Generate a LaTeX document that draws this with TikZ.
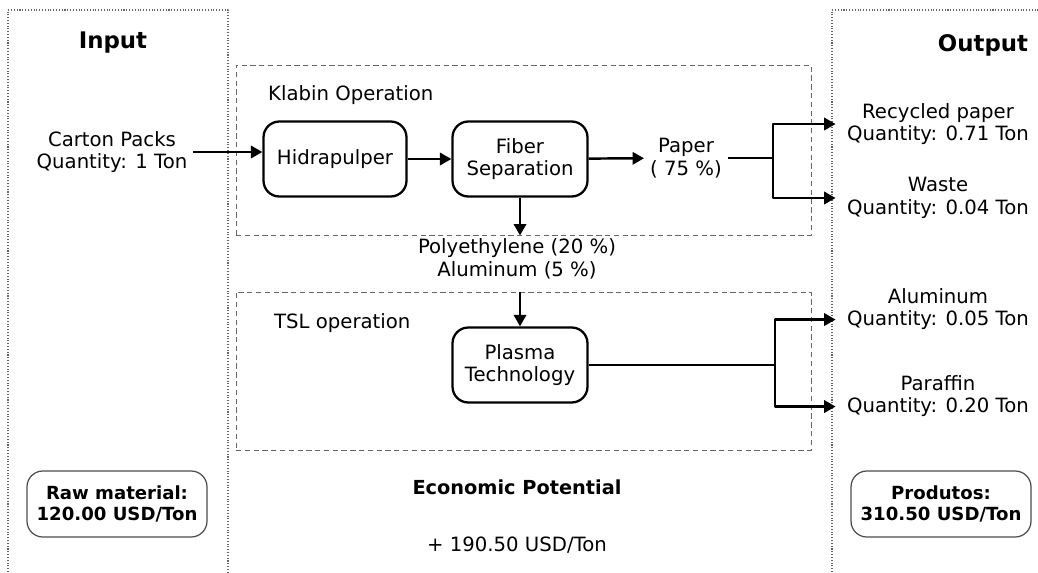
\documentclass[tikz,border=0pt]{standalone}
\usepackage{fontspec}
\setmainfont{DejaVu Sans}
\usetikzlibrary{arrows.meta}
\begin{document}
\begin{tikzpicture}[>={Triangle[length=6.5pt,width=7pt]}, x=0.02cm, y=-0.02cm, line join=round,
  font=\fontsize{11.2}{13}\selectfont,
  proc/.style={draw, line width=1.3pt, rounded corners=9pt, minimum width=2.7cm, minimum height=1.5cm, align=center},
  zone/.style={draw=black!60, densely dashed, line width=0.5pt, minimum width=11.5cm},
  panel/.style={draw=black!60, densely dotted, line width=0.6pt},
  pricebox/.style={draw=black!70, line width=0.7pt, rounded corners=9pt, minimum width=3.6cm, minimum height=1.32cm, align=center, font=\fontsize{10.3}{12}\selectfont\bfseries},
  flow/.style={->, line width=1.4pt},
  txt/.style={align=center}]
\useasboundingbox (0,0) rectangle (1038,572);
% side panels
\draw[panel] (8,572) -- (8,10) -- (228,10) -- (228,572);
\draw[panel] (832,572) -- (832,10) -- (1038,10);
\node (input) at (113,43) {\fontsize{13}{15}\selectfont\bfseries Input};
\node (output) at (983,45) {\fontsize{13}{15}\selectfont\bfseries Output};
% operations
\node[zone, minimum height=3.4cm] (klabin) at (523.5,150) {};
\node[zone, minimum height=3.16cm] (tsl) at (523.5,371) {};
\node[right] (klabinlbl) at (262,95) {Klabin Operation};
\node[right] (tsllbl) at (268,323) {TSL operation};
% process boxes
\node[proc, minimum width=2.86cm] (hidra) at (335,159) {Hidrapulper};
\node[proc] (fiber) at (520,159) {Fiber\\Separation};
\node[proc] (plasma) at (520,365) {Plasma\\Technology};
\node[txt] (paper) at (686,158) {Paper\\( 75 \%)};
\node[txt] (carton) at (112,152) {Carton Packs\\Quantity: 1 Ton};
\node[txt] (poly) at (517,259) {Polyethylene (20 \%)\\Aluminum (5 \%)};
% outputs
\node[txt] (recyc) at (938,124) {Recycled paper\\Quantity: 0.71 Ton};
\node[txt] (waste) at (938,198) {Waste\\Quantity: 0.04 Ton};
\node[txt] (alum) at (938,309) {Aluminum\\Quantity: 0.05 Ton};
\node[txt] (paraf) at (938,396) {Paraffin\\Quantity: 0.20 Ton};
% connectors
\draw[flow] (carton.east) -- (hidra.west |- carton.east);
\draw[flow] (hidra) -- (fiber);
\draw[flow] (fiber) -- (paper);
\draw[flow] (fiber) -- (fiber |- klabin.south);
\draw[flow] (plasma |- tsl.north) -- (plasma);
\coordinate (psplit) at (773,158);
\coordinate (tsplit) at (775,365);
\draw[line width=1.4pt] (paper.east) -- (psplit);
\draw[flow, shorten >=3pt] (psplit) |- (recyc.west);
\draw[flow, shorten >=3pt] (psplit) |- (waste.west);
\draw[line width=1.4pt] (plasma) -- (tsplit);
\draw[flow, shorten >=3pt] (tsplit) |- ([yshift=-6pt]alum.west);
\draw[flow, shorten >=3pt] (tsplit) |- ([yshift=-6pt]paraf.west);
% economics
\node[pricebox] (raw) at (117,504) {Raw material:\\120.00 USD/Ton};
\node[pricebox] (prod) at (941,504) {Produtos:\\310.50 USD/Ton};
\node (econ) at (517,487) {\fontsize{11}{13}\selectfont\bfseries Economic Potential};
\node (gain) at (517,545) {+ 190.50 USD/Ton};
\end{tikzpicture}
\end{document}
